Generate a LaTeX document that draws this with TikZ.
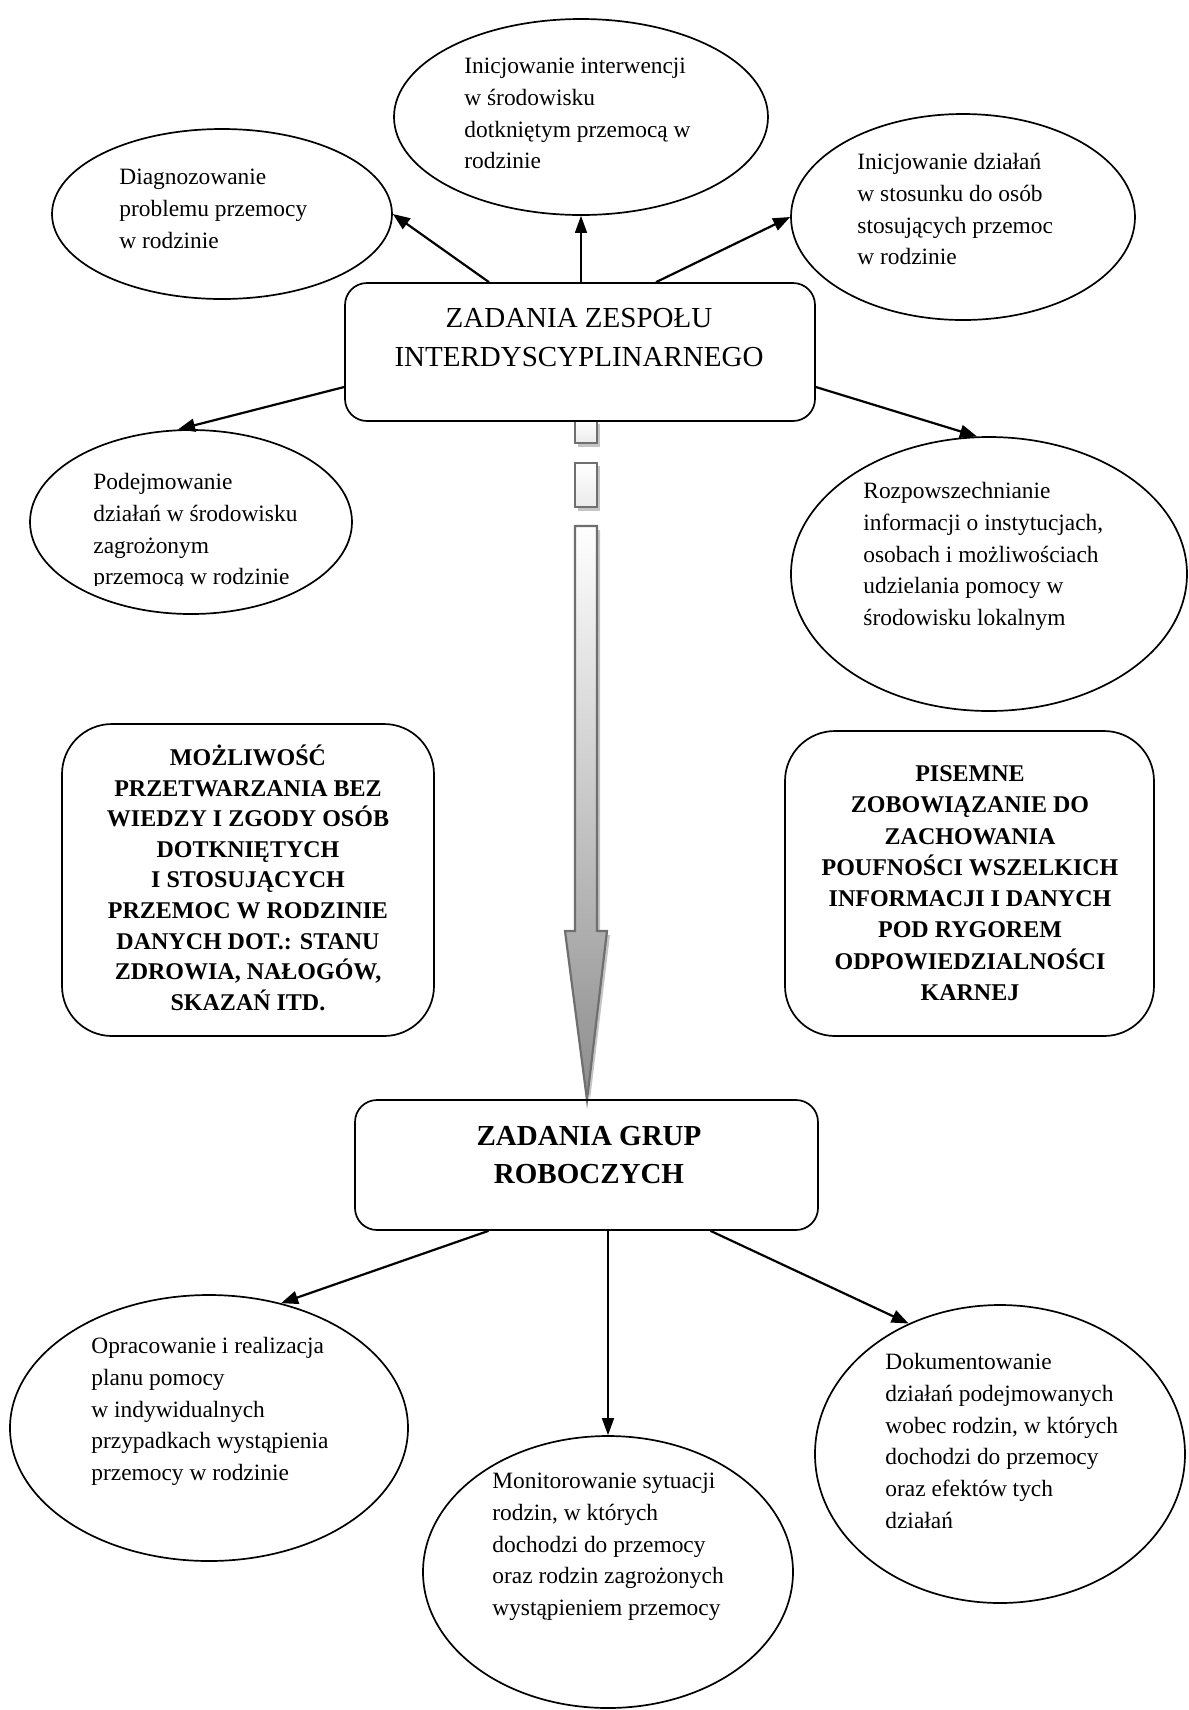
\documentclass[tikz,border=0pt]{standalone}
\usepackage{fontspec}
\setmainfont{Liberation Serif}
\usetikzlibrary{shapes.geometric,arrows.meta,calc}
\definecolor{arrowedge}{HTML}{6F6F6F}
\definecolor{arrowshadow}{HTML}{C4C4C4}
\newcommand\etfont{\fontsize{11.7pt}{15.9pt}\selectfont}
\newcommand\mtfont{\fontsize{14.5pt}{19.5pt}\selectfont}
\newcommand\gtfont{\bfseries\fontsize{14.5pt}{19pt}\selectfont}
\newcommand\btfontL{\bfseries\fontsize{12pt}{15.3pt}\selectfont}
\newcommand\btfontR{\bfseries\fontsize{12pt}{15.65pt}\selectfont}
\begin{document}
\begin{tikzpicture}[x=0.5pt,y=-0.5pt,
  ell/.style={draw, ellipse, line width=0.85pt, inner sep=0pt},
  rbox/.style={draw, rectangle, line width=0.85pt, inner sep=0pt},
  conn/.style={-{Triangle[length=8.5pt,width=6.5pt]}, line width=1.1pt},
  vconn/.style={-{Triangle[length=8.5pt,width=6pt]}, line width=0.75pt},
  etxt/.style={anchor=north west, inner sep=0pt, align=left, font=\etfont},
  ctxt/.style={anchor=north, inner sep=0pt, align=center},
  bigarrow/.style={draw=arrowedge, line width=1.1pt},
]
\useasboundingbox (0,0) rectangle (1189,1710);

% ---------- big block arrow (decorative) ----------
\fill[arrowshadow] (578,424) rectangle (600,447);
\fill[arrowshadow] (578,466) rectangle (600,511);
\fill[arrowshadow] (578,530) -- (600,530) -- (600,935) -- (610,935) -- (590,1100) -- (568,935) -- (578,935) -- cycle;
\path[bigarrow, top color=white, bottom color=black!8] (575,421) rectangle (597,443);
\path[bigarrow, top color=white, bottom color=black!8] (575,463) rectangle (597,507);
\path[bigarrow, top color=white, bottom color=black!45]
  (575,526) -- (597,526) -- (597,931) -- (607,931) -- (587,1100) -- (565,931) -- (575,931) -- cycle;

% ---------- ellipses ----------
\node[ell, minimum width=170pt, minimum height=85pt]  (E1) at (222,214) {};
\node[ell, minimum width=187pt, minimum height=98pt]  (E2) at (581,117) {};
\node[ell, minimum width=172pt, minimum height=103pt] (E3) at (963,217) {};
\node[ell, minimum width=161pt, minimum height=92pt]  (E4) at (191,522) {};
\node[ell, minimum width=198pt, minimum height=137pt] (E5) at (989,574) {};
\node[ell, minimum width=199pt, minimum height=133pt] (E6) at (209,1428) {};
\node[ell, minimum width=185pt, minimum height=136pt] (E7) at (608,1572) {};
\node[ell, minimum width=185pt, minimum height=149pt] (E8) at (1000,1454) {};

% ---------- boxes ----------
\node[rbox, rounded corners=11pt, minimum width=235pt, minimum height=69pt] (main) at (580,352) {};
\node[rbox, rounded corners=11pt, minimum width=231.5pt, minimum height=65pt] (grp) at (586.5,1165) {};
\node[rbox, rounded corners=25pt, minimum width=186pt, minimum height=156pt] (L) at (248,880) {};
\node[rbox, rounded corners=25pt, minimum width=184.5pt, minimum height=152.5pt] (R) at (969.5,883.5) {};

% ---------- texts ----------
\node[etxt] (T1) at (119,164) {\rule{0pt}{10pt}Diagnozowanie\\problemu przemocy\\w rodzinie};
\node[etxt] (T2) at (464,53) {\rule{0pt}{10pt}Inicjowanie interwencji\\w środowisku\\dotkniętym przemocą w\\rodzinie};
\node[etxt] (T3) at (857,149) {\rule{0pt}{10pt}Inicjowanie działań\\w stosunku do osób\\stosujących przemoc\\w rodzinie};
\begin{scope}
  \clip (0,0) rectangle (1189,585.5);
  \node[etxt] (T4) at (93,469) {\rule{0pt}{10pt}Podejmowanie\\działań w środowisku\\zagrożonym\\przemocą w rodzinie};
\end{scope}
\node[etxt] (T5) at (863,478) {\rule{0pt}{10pt}Rozpowszechnianie\\informacji o instytucjach,\\osobach i możliwościach\\udzielania pomocy w\\środowisku lokalnym};
\node[etxt] (T6) at (91,1333) {\rule{0pt}{10pt}Opracowanie i realizacja\\planu pomocy\\w indywidualnych\\przypadkach wystąpienia\\przemocy w rodzinie};
\node[etxt] (T7) at (492,1468) {\rule{0pt}{10pt}Monitorowanie sytuacji\\rodzin, w których\\dochodzi do przemocy\\oraz rodzin zagrożonych\\wystąpieniem przemocy};
\node[etxt] (T8) at (885,1349) {\rule{0pt}{10pt}Dokumentowanie\\działań podejmowanych\\wobec rodzin, w których\\dochodzi do przemocy\\oraz efektów tych\\działań};

\node[ctxt, font=\mtfont] (MT) at (579,303) {\rule{0pt}{12pt}ZADANIA ZESPOŁU\\INTERDYSCYPLINARNEGO};
\node[ctxt, font=\gtfont] (GT) at (589,1121) {\rule{0pt}{12pt}ZADANIA GRUP\\ROBOCZYCH};
\node[ctxt, font=\btfontL] (LT) at (248,742) {\rule{0pt}{11.5pt}MOŻLIWOŚĆ\\PRZETWARZANIA BEZ\\WIEDZY I ZGODY OSÓB\\DOTKNIĘTYCH\\I STOSUJĄCYCH\\PRZEMOC W RODZINIE\\DANYCH DOT.: STANU\\ZDROWIA, NAŁOGÓW,\\SKAZAŃ ITD.};
\node[ctxt, font=\btfontR] (RT) at (970,758) {\rule{0pt}{11.5pt}PISEMNE\\ZOBOWIĄZANIE DO\\ZACHOWANIA\\POUFNOŚCI WSZELKICH\\INFORMACJI I DANYCH\\POD RYGOREM\\ODPOWIEDZIALNOŚCI\\KARNEJ};

% ---------- connectors ----------
\draw[conn]  ([xshift=-45.5pt]main.north) -- (E1.east);
\draw[vconn] (main.north -| E2.south) -- (E2.south);
\draw[conn]  ([xshift=38pt]main.north) -- (E3.west);
\draw[conn]  ([yshift=-17.5pt]main.west) -- (E4.98);
\draw[conn]  ([yshift=-17.5pt]main.east) -- (E5.95);
\draw[conn]  ([xshift=-49pt]grp.south) -- (E6.60);
\draw[vconn] (grp.south -| E7.north) -- (E7.north);
\draw[conn]  ([xshift=62pt]grp.south) -- (E8.125);
\end{tikzpicture}
\end{document}
